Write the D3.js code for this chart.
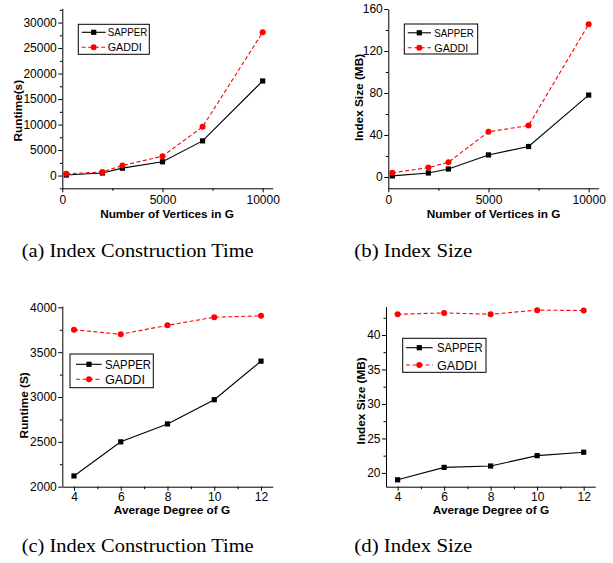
<html>
<head>
<script src="https://cdn.jsdelivr.net/npm/d3@7"></script>
<style>
  body { margin: 0; background: #fff; }
  svg { display: block; }
  .tick text { font-family: "Liberation Sans", Arial, sans-serif; font-size: 12px; fill: #000; }
  .tick line, .domain { stroke: #000; stroke-width: 1; }
  .lbl { font-family: "Liberation Sans", Arial, sans-serif; font-weight: bold; font-size: 11.8px; }
  .cap { font-family: "Liberation Serif", "Times New Roman", serif; font-size: 19px; }
  .leg { font-family: "Liberation Sans", Arial, sans-serif; }
</style>
</head>
<body>
<svg id="svg" width="613" height="563"></svg>
<script>
// data
const seriesNames = ["SAPPER", "GADDI"];
const vertices = [200, 2000, 3000, 5000, 7000, 10000];
const runtimeSapperA = [100, 500, 1450, 2700, 6800, 18550];
const runtimeGaddiA = [330, 720, 1950, 3800, 9550, 28100];
const sizeSapperB = [1, 3.8, 7.6, 21, 29, 78];
const sizeGaddiB = [4, 8.9, 14, 43, 49, 145.5];
const degrees = [4, 6, 8, 10, 12];
const runtimeSapperC = [2120, 2500, 2700, 2970, 3400];
const runtimeGaddiC = [3750, 3700, 3800, 3890, 3905];
const sizeSapperD = [19, 20.8, 21, 22.5, 23];
const sizeGaddiD = [43, 43.2, 43, 43.6, 43.55];

// ticks
const xTicksV = [0, 5000, 10000], xMinorV = [2500, 7500];
const xTicksD = [4, 6, 8, 10, 12], xMinorD = [5, 7, 9, 11];
const yTicksA = [0, 5000, 10000, 15000, 20000, 25000, 30000];
const yMinorA = [-2500, 2500, 7500, 12500, 17500, 22500, 27500, 32500];
const yTicksB = [0, 40, 80, 120, 160], yMinorB = [20, 60, 100, 140];
const yTicksC = [2000, 2500, 3000, 3500, 4000], yMinorC = [2250, 2750, 3250, 3750];
const yTicksD = [20, 25, 30, 35, 40], yMinorD = [22.5, 27.5, 32.5, 37.5, 42.5];

const captions = ["(a) Index Construction Time", "(b) Index Size", "(c) Index Construction Time", "(d) Index Size"];

const svg = d3.select("#svg");

const panels = [
  { x: vertices, s: [runtimeSapperA, runtimeGaddiA],
    xd: [0, 10500], xr: [62.3, 272.7], yd: [-2500, 32800], yr: [188.3, 8.3],
    xt: xTicksV, xm: xMinorV, yt: yTicksA, ym: yMinorA, xPad: 3.3,
    xlab: "Number of Vertices in G", xl: [167, 217.6],
    ylab: "Runtime(s)", yl: [17.5, 110.7],
    leg: { x: 78.3, y: 24.3, w: 71, h: 30, r1: 32.3, r2: 47.3, l0: 81.7, l1: 105.7, m: 93.7, tx: 107.7, fs: 11.5, tw: [39.6, 34] },
    cap: [21.7, 257.3, 232] },
  { x: vertices, s: [sizeSapperB, sizeGaddiB],
    xd: [0, 10500], xr: [388.3, 598.7], yd: [-10.8, 160], yr: [188.3, 9],
    xt: xTicksV, xm: xMinorV, yt: yTicksB, ym: yMinorB, xPad: 3.3,
    xlab: "Number of Vertices in G", xl: [493.5, 217.6],
    ylab: "Index Size (MB)", yl: [359.3, 97.5],
    leg: { x: 404.3, y: 24, w: 73.4, h: 30, r1: 32.8, r2: 47.8, l0: 407.7, l1: 431, m: 419.3, tx: 434.3, fs: 11.5, tw: [39.6, 34] },
    cap: [354.3, 257.3, 118] },
  { x: degrees, s: [runtimeSapperC, runtimeGaddiC],
    xd: [3.5, 12.5], xr: [62.3, 272.7], yd: [2000, 4015], yr: [486.7, 306],
    xt: xTicksD, xm: xMinorD, yt: yTicksC, ym: yMinorC, xPad: 2,
    xlab: "Average Degree of G", xl: [172, 513.8],
    ylab: "Runtime (S)", yl: [23.8, 405.3],
    leg: { x: 70, y: 354, w: 83.3, h: 33.7, r1: 364.3, r2: 379.3, l0: 76, l1: 101.7, m: 89, tx: 105, fs: 13, tw: [46, 40] },
    cap: [21.7, 552.3, 232] },
  { x: degrees, s: [sizeSapperD, sizeGaddiD],
    xd: [3.5, 12.5], xr: [386, 595.3], yd: [18, 44.1], yr: [486.7, 306.7],
    xt: xTicksD, xm: xMinorD, yt: yTicksD, ym: yMinorD, xPad: 2,
    xlab: "Average Degree of G", xl: [491, 513.8],
    ylab: "Index Size (MB)", yl: [360.7, 400.8],
    leg: { x: 402.7, y: 338.3, w: 83.3, h: 34, r1: 347.7, r2: 365, l0: 406, l1: 432.7, m: 419.3, tx: 437, fs: 13, tw: [45.7, 40] },
    cap: [354.3, 552.3, 118] }
];

const styles = [
  { color: "#000", dash: null, marker: "square" },
  { color: "#f00", dash: "4,2.5", marker: "circle" }
];

function drawMarker(g, kind, color, cx, cy) {
  if (kind === "square") {
    g.append("rect").attr("x", cx - 2.6).attr("y", cy - 2.6)
      .attr("width", 5.2).attr("height", 5.2).attr("fill", color);
  } else {
    g.append("circle").attr("cx", cx).attr("cy", cy).attr("r", 3).attr("fill", color);
  }
}

panels.forEach((p, pi) => {
  const x = d3.scaleLinear().domain(p.xd).range(p.xr);
  const y = d3.scaleLinear().domain(p.yd).range(p.yr);
  const g = svg.append("g");

  // minor ticks
  g.append("g").attr("transform", `translate(0,${p.yr[0]})`)
    .call(d3.axisBottom(x).tickValues(p.xm).tickSize(2.5).tickFormat("").tickSizeOuter(0))
    .call(a => a.select(".domain").remove());
  g.append("g").attr("transform", `translate(${p.xr[0]},0)`)
    .call(d3.axisLeft(y).tickValues(p.ym.filter(v => v >= p.yd[0] && v <= p.yd[1])).tickSize(2.5).tickFormat("").tickSizeOuter(0))
    .call(a => a.select(".domain").remove());

  // major ticks + axis lines
  g.append("g").attr("transform", `translate(0,${p.yr[0]})`)
    .call(d3.axisBottom(x).tickValues(p.xt).tickSize(4).tickPadding(p.xPad).tickSizeOuter(0).tickFormat(d3.format("d")));
  g.append("g").attr("transform", `translate(${p.xr[0]},0)`)
    .call(d3.axisLeft(y).tickValues(p.yt).tickSize(4).tickPadding(1.5).tickSizeOuter(0).tickFormat(d3.format("d")));

  // series
  p.s.forEach((vals, si) => {
    const st = styles[si];
    const line = d3.line().x((d, i) => x(p.x[i])).y(d => y(d));
    g.append("path").datum(vals).attr("d", line)
      .attr("fill", "none").attr("stroke", st.color).attr("stroke-width", 1.1)
      .attr("stroke-dasharray", st.dash);
    vals.forEach((v, i) => drawMarker(g, st.marker, st.color, x(p.x[i]), y(v)));
  });

  // legend
  const L = p.leg;
  g.append("rect").attr("x", L.x).attr("y", L.y).attr("width", L.w).attr("height", L.h)
    .attr("fill", "#fff").attr("stroke", "#000").attr("stroke-width", 1);
  [L.r1, L.r2].forEach((ry, si) => {
    const st = styles[si];
    g.append("line").attr("x1", L.l0).attr("x2", L.l1).attr("y1", ry).attr("y2", ry)
      .attr("stroke", st.color).attr("stroke-width", 1.1).attr("stroke-dasharray", st.dash);
    drawMarker(g, st.marker, st.color, L.m, ry);
    g.append("text").attr("class", "leg").attr("x", L.tx).attr("y", ry)
      .attr("dy", "0.36em").style("font-size", L.fs + "px")
      .attr("textLength", L.tw[si]).attr("lengthAdjust", "spacingAndGlyphs")
      .text(seriesNames[si]);
  });

  // axis labels
  g.append("text").attr("class", "lbl").attr("x", p.xl[0]).attr("y", p.xl[1])
    .attr("text-anchor", "middle").text(p.xlab);
  g.append("text").attr("class", "lbl")
    .attr("transform", `translate(${p.yl[0]},${p.yl[1]}) rotate(-90)`)
    .attr("text-anchor", "middle").attr("dy", "0.35em").text(p.ylab);

  // caption
  g.append("text").attr("class", "cap").attr("x", p.cap[0]).attr("y", p.cap[1])
    .attr("textLength", p.cap[2]).attr("lengthAdjust", "spacingAndGlyphs")
    .text(captions[pi]);
});
</script>
</body>
</html>
